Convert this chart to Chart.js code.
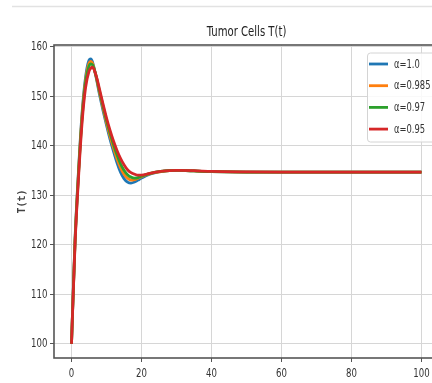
<!DOCTYPE html>
<html lang="en">
<head>
    <meta charset="UTF-8">
    <title>Tumor Cells T(t)</title>
    <script src="https://cdn.jsdelivr.net/npm/chart.js"></script>
    <style>
        html, body { margin: 0; padding: 0; overflow: hidden; background: #fff; }
        #wrap { width: 445px; height: 383px; }
    </style>
</head>
<body>
    <div id="wrap"><canvas id="tumorChart" width="445" height="383"></canvas></div>
    <script>
        const FONT = "'DejaVu Sans', sans-serif";

        // time points
        const tVals = [0, 1, 2, 3, 4, 5, 5.5, 6, 7, 8, 9, 10, 11, 12, 13, 14, 15, 16, 17, 18, 19, 20,
                       22, 24, 26, 28, 30, 35, 40, 50, 60, 70, 80, 90, 100];

        const alphaLabels = ['α=1.0', 'α=0.985', 'α=0.97', 'α=0.95'];
        const colors = ['#1f77b4', '#ff7f0e', '#2ca02c', '#d62728'];

        const tA100 = [100, 121, 135, 146.5, 153.8, 157.3, 157.6, 157.0, 154.0, 150.4, 147.2, 144.2, 141.4, 138.9, 136.6, 134.7, 133.4, 132.7, 132.5, 132.7, 133.1, 133.5,
                       134.2, 134.6, 134.85, 135.0, 135.05, 134.95, 134.8, 134.7, 134.7, 134.7, 134.7, 134.7, 134.7];
        const tA985 = [100, 120.7, 134.6, 146, 153.2, 156.7, 157.1, 156.7, 154.1, 150.8, 147.7, 144.7, 142.0, 139.6, 137.4, 135.6, 134.3, 133.5, 133.1, 133.2, 133.5, 133.8,
                       134.3, 134.65, 134.85, 135.0, 135.05, 134.95, 134.8, 134.7, 134.7, 134.7, 134.7, 134.7, 134.7];
        const tA970 = [100, 120.4, 134.2, 145.4, 152.7, 156.1, 156.6, 156.4, 154.2, 151.1, 148.1, 145.2, 142.6, 140.3, 138.2, 136.4, 135.1, 134.2, 133.7, 133.5, 133.6, 133.9,
                       134.35, 134.7, 134.9, 135.0, 135.05, 134.95, 134.8, 134.7, 134.7, 134.7, 134.7, 134.7, 134.7];
        const tA950 = [100, 120, 133.5, 144.5, 151.7, 155.1, 155.7, 155.9, 154.3, 151.5, 148.5, 145.7, 143.2, 141.0, 139.1, 137.5, 136.2, 135.2, 134.6, 134.3, 134.1, 134.1,
                       134.4, 134.7, 134.9, 135.0, 135.05, 135.0, 134.85, 134.75, 134.7, 134.7, 134.7, 134.7, 134.7];
        const series = [tA100, tA985, tA970, tA950];

        const xTicks = [0, 20, 40, 60, 80, 100];
        const yTicks = [100, 110, 120, 130, 140, 150, 160];
        const chartTitle = 'Tumor Cells T(t)';

        const datasets = series.map((vals, i) => ({
            label: alphaLabels[i],
            data: vals.map((v, j) => ({ x: tVals[j], y: v })),
            borderColor: colors[i],
            backgroundColor: colors[i],
            borderWidth: 2.8,
            pointRadius: 0,
            cubicInterpolationMode: 'monotone',
            order: series.length - 1 - i  // red drawn on top
        }));

        // the source picture is squeezed sideways, so its text is narrow too
        function squeezedText(ctx, text, x, y, align, sx) {
            ctx.save();
            ctx.translate(x, y);
            ctx.scale(sx, 1);
            ctx.textAlign = align;
            ctx.fillText(text, 0, 0);
            ctx.restore();
        }

        // title, tick labels, axes frame, inset legend and the faint line at the top
        const framePlugin = {
            id: 'frame',
            afterDraw(chart) {
                const ctx = chart.ctx;
                const a = chart.chartArea;
                const xs = chart.scales.x, ys = chart.scales.y;
                ctx.save();

                ctx.strokeStyle = '#e2e2e2';
                ctx.lineWidth = 1.5;
                ctx.beginPath();
                ctx.moveTo(12, 6.5);
                ctx.lineTo(445, 6.5);
                ctx.stroke();

                ctx.strokeStyle = '#555';
                ctx.lineWidth = 1.6;
                ctx.strokeRect(a.left, a.top, a.right - a.left, a.bottom - a.top);

                ctx.textBaseline = 'middle';
                ctx.fillStyle = '#222';
                ctx.font = '14px ' + FONT;
                squeezedText(ctx, chartTitle, (a.left + a.right) / 2, 32, 'center', 0.72);

                ctx.fillStyle = '#333';
                ctx.font = '13px ' + FONT;
                yTicks.forEach(v => squeezedText(ctx, String(v), 47.5, ys.getPixelForValue(v), 'right', 0.66));
                xTicks.forEach(v => squeezedText(ctx, String(v), xs.getPixelForValue(v), 373.5, 'center', 0.66));

                // legend
                const lx = 367, ly = 52.5, lw = 72, lh = 89;
                ctx.fillStyle = 'rgba(255,255,255,0.85)';
                ctx.strokeStyle = '#d4d4d4';
                ctx.lineWidth = 1;
                ctx.beginPath();
                ctx.roundRect(lx + 0.5, ly + 0.5, lw, lh, 3);
                ctx.fill();
                ctx.stroke();

                ctx.font = '12.5px ' + FONT;
                alphaLabels.forEach((lab, i) => {
                    const y = 64 + i * 21.7;
                    ctx.strokeStyle = colors[i];
                    ctx.lineWidth = 2.8;
                    ctx.beginPath();
                    ctx.moveTo(369, y);
                    ctx.lineTo(388, y);
                    ctx.stroke();
                    ctx.fillStyle = '#333';
                    squeezedText(ctx, lab, 394, y + 0.5, 'left', 0.67);
                });
                ctx.restore();
            }
        };

        new Chart(document.getElementById('tumorChart'), {
            type: 'line',
            data: { datasets: datasets },
            options: {
                responsive: false,
                animation: false,
                layout: { padding: { left: 0, right: 6, top: 45, bottom: 0 } },
                plugins: {
                    legend: { display: false },
                    tooltip: { enabled: false },
                    title: { display: false }
                },
                scales: {
                    x: {
                        type: 'linear',
                        min: -5,
                        max: 105,
                        afterBuildTicks: s => { s.ticks = xTicks.map(v => ({ value: v })); },
                        afterFit: s => { s.height = 25; },
                        border: { display: false },
                        grid: { color: '#d6d6d6', lineWidth: 1, tickLength: 4, tickColor: '#555' },
                        ticks: { color: 'rgba(0,0,0,0)', padding: 3, maxRotation: 0 }
                    },
                    y: {
                        min: 97.15,
                        max: 160.4,
                        afterBuildTicks: s => { s.ticks = yTicks.map(v => ({ value: v })); },
                        afterFit: s => { s.width = 54; },
                        border: { display: false },
                        grid: { color: '#d6d6d6', lineWidth: 1, tickLength: 4, tickColor: '#555' },
                        ticks: { color: 'rgba(0,0,0,0)', padding: 3 },
                        title: {
                            display: true,
                            text: 'T(t)',
                            color: '#444',
                            font: { family: "'DejaVu Sans Mono', monospace", size: 10, weight: 'bold' },
                            padding: { top: 16, bottom: 0 }
                        }
                    }
                }
            },
            plugins: [framePlugin]
        });
    </script>
</body>
</html>
